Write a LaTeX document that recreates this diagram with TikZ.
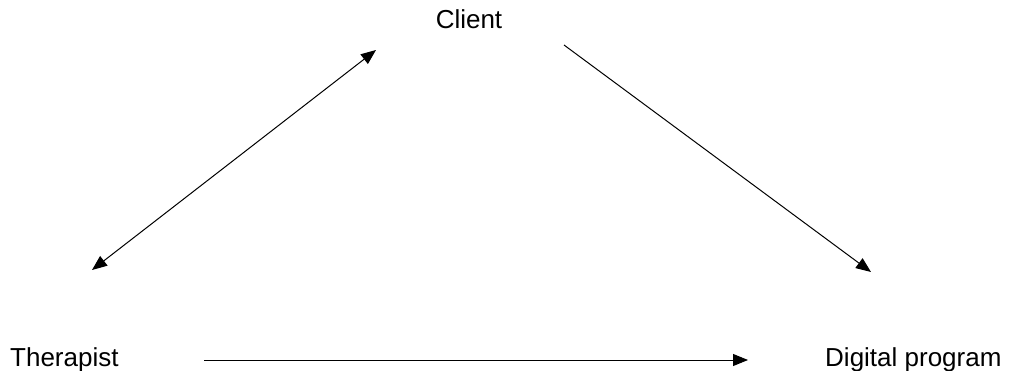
\documentclass[tikz,border=0pt]{standalone}
\usepackage{fontspec}
\setmainfont{Liberation Sans}
\usetikzlibrary{arrows.meta}
\begin{document}
\begin{tikzpicture}[x=1pt,y=-1pt,
  lbl/.style={font=\fontsize{26}{30}\selectfont, inner sep=0pt, anchor=base},
  conn/.style={line width=1pt, -{Triangle[length=15pt,width=12pt]}},
  dconn/.style={line width=1pt, {Triangle[length=15pt,width=12pt]}-{Triangle[length=15pt,width=12pt]}}]
\useasboundingbox (0,0) rectangle (1011,371);
\node[lbl] (client) at (469,29) {Client};
\node[lbl, anchor=base west] (therapist) at (10,366) {Therapist};
\node[lbl, anchor=base west] (digital) at (825,366) {Digital program};
\coordinate (cT1) at (92,270);
\coordinate (cC1) at (376,50);
\coordinate (cC2) at (564,45);
\coordinate (cD2) at (871,272);
\coordinate (cT3) at (204,360);
\coordinate (cD3) at (748,360);
\draw[dconn] (cT1) -- (cC1);
\draw[conn] (cC2) -- (cD2);
\draw[conn] (cT3) -- (cD3);
\end{tikzpicture}
\end{document}
